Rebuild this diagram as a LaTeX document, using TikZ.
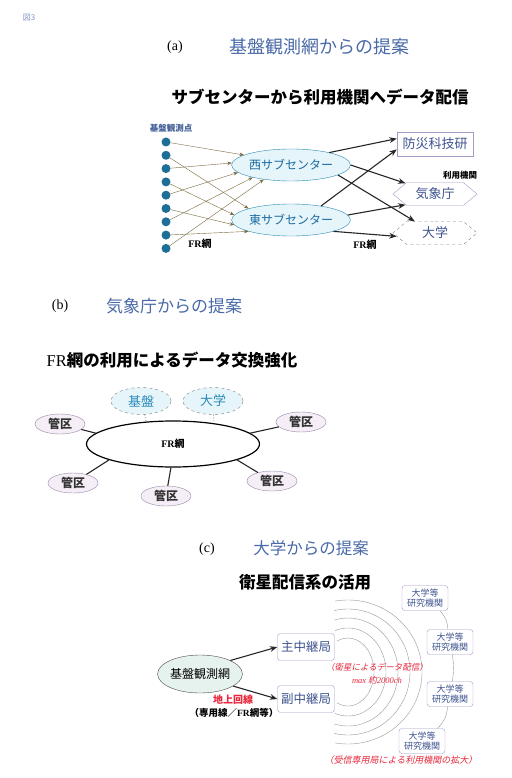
\documentclass[tikz,border=0pt]{standalone}
\usepackage{fontspec}
\setmainfont{Liberation Serif}
\newfontfamily\jp{Noto Sans CJK JP}
\newfontfamily\jpsl{Noto Sans CJK JP}[FakeSlant=0.2]
\usepackage{tikz}
\usetikzlibrary{arrows.meta,shapes.geometric,shapes.symbols}
\definecolor{ttl}{HTML}{4A6AA8}
\definecolor{dotc}{HTML}{1E6F98}
\definecolor{subfill}{HTML}{E6F5FA}
\definecolor{subdraw}{HTML}{2A8CB8}
\definecolor{subtext}{HTML}{1A6AA0}
\definecolor{orgtext}{HTML}{3F5490}
\definecolor{orgdraw}{HTML}{A49CC8}
\definecolor{kanfill}{HTML}{F6EEF6}
\definecolor{kandraw}{HTML}{9A8AAA}
\definecolor{netfill}{HTML}{E6F2EE}
\definecolor{redtxt}{HTML}{E8283C}
\definecolor{feedc}{HTML}{7A6A40}

\begin{document}
\begin{tikzpicture}[x=1pt, y=-1pt,
  title/.style={font=\jp\fontsize{18pt}{18pt}\selectfont, text=ttl},
  subttl/.style={font=\jp\bfseries\fontsize{16.5pt}{16.5pt}\selectfont},
  plab/.style={font=\fontsize{14pt}{14pt}\selectfont},
  dot/.style={circle, fill=dotc, minimum size=9pt, inner sep=0pt},
  subc/.style={ellipse, draw=subdraw, fill=subfill, minimum width=108pt, minimum height=32pt, inner sep=0pt, font=\jp\fontsize{12pt}{12pt}\selectfont, text=subtext},
  org/.style={draw=orgdraw, fill=white, inner sep=0pt, font=\jp\fontsize{13pt}{13pt}\selectfont, text=orgtext},
  feed/.style={-{Stealth[length=1.6mm, width=1.2mm]}, line width=0.4pt, draw=feedc},
  supply/.style={-{Stealth[length=2.6mm, width=2mm]}, line width=1.1pt, black!85},
  frlab/.style={font=\bfseries\fontsize{10pt}{10pt}\selectfont},
  member/.style={ellipse, draw=gray, dashed, fill=subfill, minimum width=60pt, minimum height=27pt, inner sep=0pt, text=subdraw, font=\jp\fontsize{13pt}{13pt}\selectfont},
  kanku/.style={ellipse, draw=kandraw, fill=kanfill, minimum width=50pt, minimum height=20pt, inner sep=0pt, font=\jp\bfseries\fontsize{12pt}{12pt}\selectfont, text=black!80},
  link/.style={line width=1.1pt, black!85},
  relay/.style={draw=orgdraw, rounded corners=3pt, fill=white, minimum width=57pt, minimum height=27pt, inner sep=0pt, font=\jp\fontsize{12.5pt}{12.5pt}\selectfont, text=orgtext},
  inst/.style={draw=orgdraw, rounded corners=3pt, fill=white, minimum width=46pt, minimum height=25pt, inner sep=1pt, align=center, font=\jp\fontsize{9pt}{10.5pt}\selectfont, text=orgtext},
  wave/.style={line width=0.4pt, gray!80},
  redit/.style={font=\jpsl\fontsize{8.5pt}{8.5pt}\selectfont, text=redtxt}]
  \fill[white] (0,0) rectangle (511,778);
  \useasboundingbox (0,0) rectangle (511,778);
  \node[font=\jp\fontsize{8pt}{8pt}\selectfont, text=ttl!70] (fig) at (29,18) {図3};
  % (a) sub centers
  \node[plab] (la) at (175,47) {(a)};
  \node[title] (ta) at (319,47) {基盤観測網からの提案};
  \node[subttl] (sa) at (320,97) {サブセンターから利用機関へデータ配信};
  \node[font=\jp\bfseries\fontsize{8.5pt}{8.5pt}\selectfont, text=ttl!90!black] (obs) at (171,128) {基盤観測点};
  \foreach \i in {1,...,9}
    \node[dot] (d\i) at (166,{142+13.3*(\i-1)}) {};
  \node[subc] (west) at (291,165) {西サブセンター};
  \node[subc] (east) at (291,220) {東サブセンター};
  \foreach \i/\a in {1/168,3/178,5/188,7/198,9/208}
    \draw[feed] (d\i) -- (west.\a);
  \foreach \i/\a in {2/165,4/175,6/185,8/195}
    \draw[feed] (d\i) -- (east.\a);
  \node[org, minimum width=76pt, minimum height=24pt] (bousai) at (435,144) {防災科技研};
  \node[org, shape=signal, signal to=west and east, signal pointer angle=80, minimum width=84pt, minimum height=23pt] (kisho) at (435,194) {気象庁};
  \node[org, shape=signal, signal to=west and east, signal pointer angle=80, minimum width=84pt, minimum height=23pt, draw=gray, dashed] (univ) at (435,233) {大学};
  \node[font=\jp\bfseries\fontsize{8.5pt}{8.5pt}\selectfont] (users) at (460,175) {利用機関};
  \draw[supply] (west.18) -- (bousai.172);
  \draw[supply] (west.0) -- (kisho.160);
  \draw[supply] (west.-12) -- (univ.150);
  \draw[supply] (east.25) -- (bousai.188);
  \draw[supply] (east.5) -- (kisho.200);
  \draw[supply] (east.-15) -- (univ.185);
  \node[frlab] (fra) at (200,244) {FR{\jp 網}};
  \node[frlab] (frb) at (365,245) {FR{\jp 網}};
  % (b) FR net
  \node[plab] (lb) at (60,306) {(b)};
  \node[title, font=\jp\fontsize{17pt}{17pt}\selectfont] (tb) at (174,306) {気象庁からの提案};
  \node[subttl] (sb) at (172,360) {{\rmfamily\mdseries FR}網の利用によるデータ交換強化};
  \node[ellipse, draw, line width=1.2pt, fill=white, minimum width=173pt, minimum height=46pt, frlab] (fr) at (173,444) {FR{\jp 網}};
  \node[member] (kiban) at (141,401) {基盤};
  \node[member] (dai) at (213,401) {大学};
  \node[kanku] (k1) at (60,424) {管区};
  \node[kanku] (k2) at (301,422) {管区};
  \node[kanku] (k3) at (73,483) {管区};
  \node[kanku] (k4) at (166,496) {管区};
  \node[kanku] (k5) at (272,481) {管区};
  \draw[link] (k1) -- (fr.172);
  \draw[link] (k2) -- (fr.8);
  \draw[link] (k3) -- (fr.194);
  \draw[link] (k4) -- (fr.265);
  \draw[link] (k5) -- (fr.346);
  \draw[dotted, thick, gray] (kiban) -- (fr.140);
  \draw[dotted, thick, gray] (dai) -- (fr.27);
  % (c) satellite
  \node[plab] (lc) at (207,549) {(c)};
  \node[title, font=\jp\fontsize{16.5pt}{16.5pt}\selectfont] (tc) at (311,548) {大学からの提案};
  \node[subttl] (sc) at (305,582) {衛星配信系の活用};
  \coordinate (sat) at (348,672);
  \foreach \rx/\ry/\a in {26/34/115,38/44/110,50/54/106,62/63/103,74/72/100}
    \draw[wave] ([shift={(\a:\rx pt and \ry pt)}]sat) arc[start angle=\a, end angle=-\a, x radius=\rx pt, y radius=\ry pt];
  \node[ellipse, draw=black!70, fill=netfill, minimum width=72pt, minimum height=38pt, inner sep=0pt, font=\jp\fontsize{12pt}{12pt}\selectfont] (net) at (200,674) {基盤観測網};
  \node[relay] (main) at (306,647) {主中継局};
  \node[relay] (sub) at (306,699) {副中継局};
  \draw[supply] (net.24) -- (main.west);
  \draw[supply] (net.-20) -- (sub.west);
  \node[font=\jp\bfseries\fontsize{10pt}{10pt}\selectfont, text=redtxt] (ground) at (233,700) {地上回線};
  \node[font=\jp\bfseries\fontsize{9.5pt}{9.5pt}\selectfont] (lease) at (234,713) {（専用線／{\rmfamily FR}網等）};
  \node[redit] (satlab) at (377,667) {（衛星によるデータ配信）};
  \node[font=\itshape\fontsize{8.5pt}{8.5pt}\selectfont, text=redtxt] (maxlab) at (377,680) {max {\jpsl 約}2000ch};
  \node[inst] (u1) at (425,598) {大学等\\研究機関};
  \node[inst] (u2) at (450,642) {大学等\\研究機関};
  \node[inst] (u3) at (450,694) {大学等\\研究機関};
  \node[inst] (u4) at (422,741) {大学等\\研究機関};
  \draw[wave] (u1) to[bend left=20] (u2);
  \draw[wave] (u2) to[bend left=10] (u3);
  \draw[wave] (u3) to[bend left=20] (u4);
  \node[redit, font=\jpsl\fontsize{9pt}{9pt}\selectfont] (recv) at (401,760) {（受信専用局による利用機関の拡大）};
\end{tikzpicture}
\end{document}
